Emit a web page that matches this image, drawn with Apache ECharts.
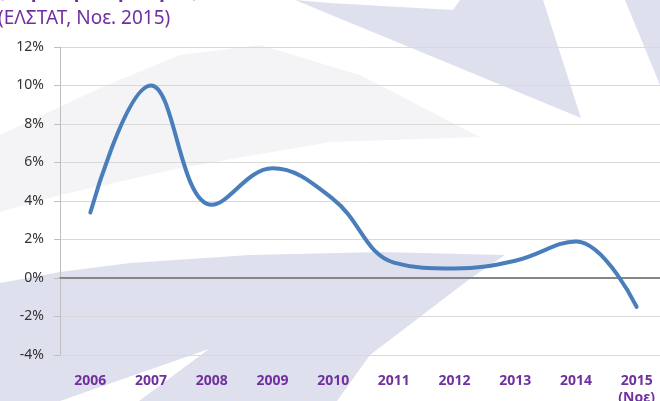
<!DOCTYPE html>
<html>
<head>
<meta charset="utf-8">
<script src="https://cdn.jsdelivr.net/npm/echarts@6/dist/echarts.min.js"></script>
<style>
  html, body { margin: 0; padding: 0; background: #fff; }
  #chart { width: 660px; height: 401px; }
</style>
</head>
<body>
<div id="chart"></div>
<script>
const years = ['2006', '2007', '2008', '2009', '2010', '2011', '2012', '2013', '2014', '2015\n(Νοε)']
const values = [3.4, 10.0, 3.8, 5.7, 4.1, 0.8, 0.5, 0.9, 1.9, -1.5]
const yMin = -4
const yMax = 12
const yStep = 2

const PURPLE = '#7030a0'
const LAVENDER = '#dfe0ee'
const LIGHT = '#f4f4f6'

// faint logo watermark behind the plot
const watermark = [
  { pts: [[0, 135], [100, 88], [180, 55], [260, 45], [360, 75], [480, 137], [330, 142], [180, 168], [60, 195], [0, 212]], fill: LIGHT },
  { pts: [[295, 0], [330, 3], [453, 10], [460, 0], [543, 0], [581, 118]], fill: LAVENDER },
  { pts: [[625, 0], [660, 0], [660, 85]], fill: LAVENDER },
  { pts: [[0, 283], [60, 272], [130, 263], [250, 255], [380, 252], [505, 255], [471, 278], [370, 355], [337, 401], [0, 401]], fill: LAVENDER },
  { pts: [[209, 349], [60, 401], [139, 401]], fill: '#ffffff' }
].map(s => ({
  type: 'polygon',
  z: -10,
  silent: true,
  shape: { points: s.pts },
  style: { fill: s.fill }
}))

const chart = echarts.init(document.getElementById('chart'), null, { renderer: 'canvas' })
chart.setOption({
  animation: false,
  backgroundColor: '#fff',
  textStyle: { fontFamily: 'Noto Sans' },
  graphic: watermark,
  title: [
    {
      text: '(ετήσια μεταβολή, %)',
      left: -2,
      top: -18,
      padding: 0,
      textStyle: { color: PURPLE, fontSize: 19, fontWeight: 'bold', fontFamily: 'Noto Sans' }
    },
    {
      text: '(ΕΛΣΤΑΤ, Νοε. 2015)',
      left: -2,
      top: 9,
      padding: 0,
      textStyle: { color: PURPLE, fontSize: 19, fontWeight: 'normal', fontFamily: 'Noto Sans' }
    }
  ],
  grid: { left: 60, top: 47, width: 607, bottom: 46, containLabel: false, outerBoundsMode: 'none' },
  xAxis: [
    {
      type: 'category',
      data: years,
      boundaryGap: true,
      axisLine: { show: false, onZero: false },
      axisTick: { show: false },
      axisLabel: {
        color: PURPLE,
        fontWeight: 'bold',
        fontSize: 14,
        margin: 18,
        lineHeight: 17,
        interval: 0
      }
    },
    {
      type: 'category',
      data: years,
      position: 'top',
      axisLine: { show: true, onZero: true, lineStyle: { color: '#868686', width: 2 } },
      axisTick: { show: false },
      axisLabel: { show: false },
      splitLine: { show: false }
    }
  ],
  yAxis: {
    type: 'value',
    min: yMin,
    max: yMax,
    interval: yStep,
    axisLine: { show: true, lineStyle: { color: '#bfbfbf', width: 1 } },
    axisTick: { show: true, inside: false, length: 6, lineStyle: { color: '#bfbfbf' } },
    axisLabel: {
      color: '#333',
      fontSize: 14,
      margin: 16,
      formatter: v => v + '%'
    },
    splitLine: { lineStyle: { color: '#d9d9d9', width: 1 } }
  },
  series: [{
    type: 'line',
    data: values,
    smooth: 0.4,
    symbol: 'none',
    lineStyle: { color: '#4a7ebb', width: 4, cap: 'round', join: 'round' },
    z: 5
  }]
})
</script>
</body>
</html>
